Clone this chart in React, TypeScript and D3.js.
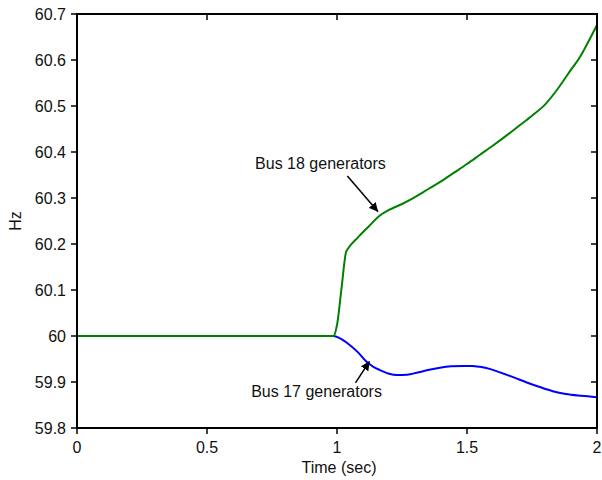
import React from "react";
import * as d3 from "d3";

const greenT = [0, 0.98, 0.986, 1.0, 1.018, 1.035, 1.04, 1.08, 1.12, 1.165, 1.2, 1.25, 1.3, 1.35, 1.4, 1.45, 1.5, 1.55, 1.6, 1.65, 1.7, 1.75, 1.8, 1.85, 1.9, 1.935, 1.95, 2.0];
const greenV = [60, 60, 60, 60.024, 60.107, 60.183, 60.188, 60.214, 60.237, 60.262, 60.274, 60.287, 60.302, 60.319, 60.336, 60.355, 60.374, 60.394, 60.414, 60.435, 60.457, 60.479, 60.503, 60.538, 60.579, 60.607, 60.622, 60.676];

const blueT = [0, 0.986, 1.02, 1.05, 1.08, 1.114, 1.14, 1.165, 1.2, 1.23, 1.27, 1.306, 1.35, 1.396, 1.44, 1.486, 1.52, 1.55, 1.59, 1.627, 1.68, 1.73, 1.78, 1.83, 1.88, 1.94, 2.0];
const blueV = [60, 60, 59.992, 59.98, 59.965, 59.944, 59.933, 59.926, 59.918, 59.915, 59.916, 59.92, 59.926, 59.931, 59.934, 59.935, 59.935, 59.933, 59.928, 59.921, 59.91, 59.899, 59.889, 59.88, 59.874, 59.87, 59.867];

const xTicks = [0, 0.5, 1, 1.5, 2];
const yTicks = [59.8, 59.9, 60, 60.1, 60.2, 60.3, 60.4, 60.5, 60.6, 60.7];

const labels = [
  { text: "Bus 18 generators", tx: 0.685, ty: 60.362, ax0: 1.04, ay0: 60.348, ax1: 1.158, ay1: 60.27 },
  { text: "Bus 17 generators", tx: 0.67, ty: 59.867, ax0: 1.071, ay0: 59.898, ax1: 1.125, ay1: 59.945 },
];

export default function App() {
  const W = 602, H = 480;
  const L = 77, R = 597, T = 14, B = 428;
  const x = d3.scaleLinear().domain([0, 2]).range([L, R]);
  const y = d3.scaleLinear().domain([59.8, 60.7]).range([B, T]);
  const line = d3.line<[number, number]>().x(d => x(d[0])).y(d => y(d[1])).curve(d3.curveMonotoneX);
  const green = line(greenT.map((t, i) => [t, greenV[i]] as [number, number])) || "";
  const blue = line(blueT.map((t, i) => [t, blueV[i]] as [number, number])) || "";
  const font = "'Liberation Sans', Arial, sans-serif";
  const fmt = (v: number) => (Math.round(v * 10) / 10).toString();
  return (
    <svg width={W} height={H} style={{ position: "absolute", left: 0, top: 0, display: "block" }} fontFamily={font}>
      <defs>
        <marker id="ah" viewBox="0 0 10 10" refX="10" refY="5" markerWidth="9" markerHeight="9" markerUnits="userSpaceOnUse" orient="auto">
          <path d="M0,0 L10,5 L0,10 z" fill="#000" />
        </marker>
      </defs>
      <rect x={0} y={0} width={W} height={H} fill="#fff" />
      <path d={blue} fill="none" stroke="#0000ff" strokeWidth={2} />
      <path d={green} fill="none" stroke="#008000" strokeWidth={2} />
      <rect x={L} y={T} width={R - L} height={B - T} fill="none" stroke="#000" strokeWidth={2} />
      {xTicks.map(t => (
        <g key={"x" + t}>
          <line x1={x(t)} x2={x(t)} y1={B} y2={B + 6} stroke="#000" strokeWidth={1.5} />
          <line x1={x(t)} x2={x(t)} y1={T} y2={T + 6} stroke="#000" strokeWidth={1.5} />
          <text x={x(t)} y={453} fontSize={16} textAnchor="middle" fill="#111">{fmt(t)}</text>
        </g>
      ))}
      {yTicks.map(v => (
        <g key={"y" + v}>
          <line x1={L - 6} x2={L} y1={y(v)} y2={y(v)} stroke="#000" strokeWidth={1.5} />
          <line x1={R - 6} x2={R} y1={y(v)} y2={y(v)} stroke="#000" strokeWidth={1.5} />
          <text x={66} y={y(v) + 5.5} fontSize={16} textAnchor="end" fill="#111">{fmt(v)}</text>
        </g>
      ))}
      <text x={339} y={473} fontSize={16} textAnchor="middle" fill="#111">Time (sec)</text>
      <text transform={`translate(21,221) rotate(-90)`} fontSize={16} textAnchor="middle" fill="#111">Hz</text>
      {labels.map(l => (
        <g key={l.text}>
          <text x={x(l.tx)} y={y(l.ty)} fontSize={16} fill="#111">{l.text}</text>
          <line x1={x(l.ax0)} y1={y(l.ay0)} x2={x(l.ax1)} y2={y(l.ay1)} stroke="#000" strokeWidth={1.5} markerEnd="url(#ah)" />
        </g>
      ))}
    </svg>
  );
}
